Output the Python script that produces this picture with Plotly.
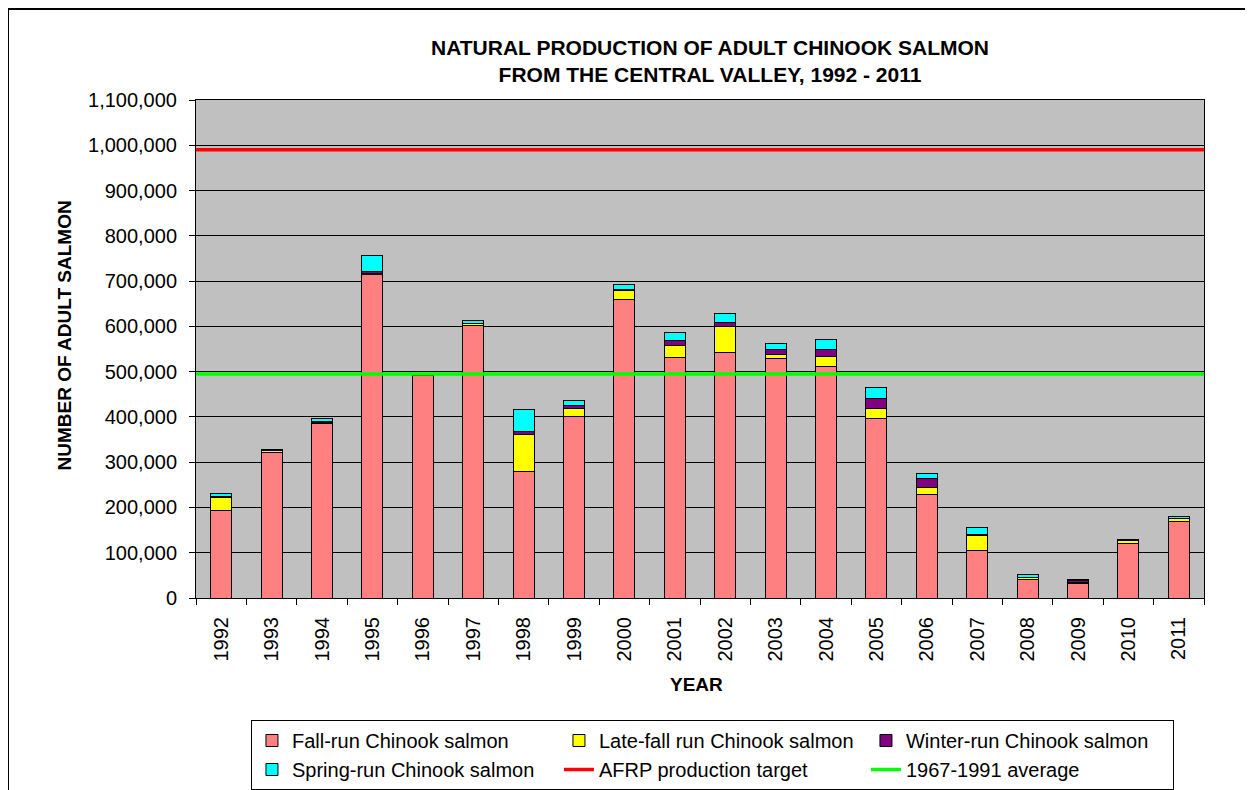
import plotly.graph_objects as go

# Natural production of adult Chinook salmon, Central Valley
years = [str(y) for y in range(1992, 2012)]
fall_run = [193000, 322000, 386000, 715000, 491000, 603000, 279000, 402000, 660000, 532000,
            543000, 528000, 512000, 396000, 228000, 106000, 41000, 32000, 121000, 170000]
late_fall_run = [29000, 3000, 2000, 1000, 1000, 3000, 83000, 17000, 20000, 25000,
                 56000, 9000, 22000, 23000, 17000, 33000, 4000, 2000, 5000, 5000]
winter_run = [3000, 2000, 1000, 5000, 1000, 1000, 6000, 7000, 2000, 12000,
              10000, 12000, 14000, 21000, 19000, 2000, 1000, 5000, 1000, 1000]
spring_run = [6000, 1000, 7000, 35000, 1000, 5000, 49000, 11000, 11000, 17000,
              20000, 14000, 23000, 26000, 12000, 15000, 5000, 2000, 2000, 5000]

afrp_target = 990000
average_67_91 = 495000
line_span = [0, 1]

font_family = 'Liberation Sans, Arial, sans-serif'

fig = go.Figure()

bar_series = [
    ('Fall-run Chinook salmon', fall_run, '#FF8080'),
    ('Late-fall run Chinook salmon', late_fall_run, '#FFFF00'),
    ('Winter-run Chinook salmon', winter_run, '#800080'),
    ('Spring-run Chinook salmon', spring_run, '#00FFFF'),
]
for name, values, colour in bar_series:
    fig.add_trace(go.Bar(x=years, y=values, name=name,
                         marker=dict(color=colour, line=dict(color='black', width=1))))

# Horizontal reference lines drawn on a hidden 0-1 axis so they run edge to edge
fig.add_trace(go.Scatter(x=line_span, y=[afrp_target] * 2, name='AFRP production target',
                         mode='lines', line=dict(color='#FF0000', width=3.5), xaxis='x2'))
fig.add_trace(go.Scatter(x=line_span, y=[average_67_91] * 2, name='1967-1991 average',
                         mode='lines', line=dict(color='#00FF00', width=3.5), xaxis='x2'))

# The page body adds an 8px offset, so margins are trimmed by that amount
fig.update_layout(
    width=1253, height=790,
    barmode='stack', bargap=0.58,
    plot_bgcolor='#C0C0C0', paper_bgcolor='white',
    font=dict(family=font_family, size=20, color='black'),
    margin=dict(l=188, r=57, t=92, b=200),
    showlegend=True,
    legend=dict(orientation='h', xref='container', yref='container',
                x=0.1939, xanchor='left', y=0.0987, yanchor='top',
                entrywidth=262, bordercolor='black', borderwidth=1, bgcolor='white',
                font=dict(size=20), traceorder='normal'),
    xaxis=dict(type='category', tickangle=-90, ticks='outside', tickson='boundaries',
               ticklen=6, tickcolor='black', showline=True, linecolor='black', mirror=True,
               showgrid=False, ticklabelstandoff=10),
    xaxis2=dict(overlaying='x', range=[0, 1], visible=False),
    yaxis=dict(range=[0, 1100000], dtick=100000, tickformat=',', ticks='outside', ticklen=6,
               tickcolor='black', showline=True, linecolor='black', mirror=True,
               gridcolor='black', gridwidth=1, zeroline=False, ticklabelstandoff=8),
)

# Titles as annotations to place them like the original
fig.add_annotation(text='<b>NATURAL PRODUCTION OF ADULT CHINOOK SALMON<br>FROM THE CENTRAL VALLEY, 1992 - 2011</b>',
                   xref='paper', yref='paper', x=0.51, y=1.0783, xanchor='center', yanchor='middle',
                   showarrow=False, font=dict(size=21))
fig.add_annotation(text='<b>NUMBER OF ADULT SALMON</b>', textangle=-90,
                   xref='paper', yref='paper', x=-0.13, y=0.527, xanchor='center', yanchor='middle',
                   showarrow=False, font=dict(size=19))
fig.add_annotation(text='<b>YEAR</b>', xref='paper', yref='paper', x=0.4965, y=-0.1727,
                   xanchor='center', yanchor='middle', showarrow=False, font=dict(size=19))

# Outer chart frame (cut off at the right and bottom like the source image)
fig.add_shape(type='rect', xref='paper', yref='paper', x0=-0.1865, x1=1.07, y0=-0.42, y1=1.1827,
              line=dict(color='black', width=2), layer='below')

fig.write_html('out.html')
